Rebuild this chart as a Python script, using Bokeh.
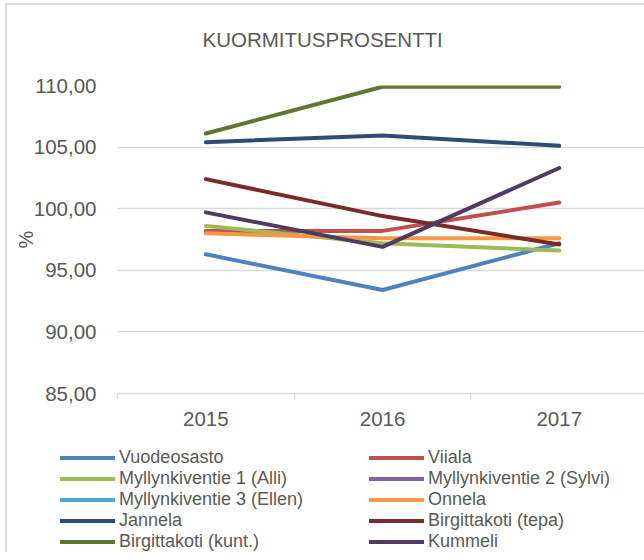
import numpy as np
from bokeh.plotting import figure
from bokeh.layouts import column
from bokeh.models import Legend, LegendItem, FixedTicker, Range1d, Label
from bokeh.embed import file_html
from bokeh.resources import INLINE

# ---- data ----
title_text = "KUORMITUSPROSENTTI"
years = [2015, 2016, 2017]
year_labels = ["2015", "2016", "2017"]
y_ticks = [85, 90, 95, 100, 105, 110]
y_tick_labels = ["85,00", "90,00", "95,00", "100,00", "105,00", "110,00"]

series_names = [
    "Vuodeosasto", "Viiala",
    "Myllynkiventie 1 (Alli)", "Myllynkiventie 2 (Sylvi)",
    "Myllynkiventie 3 (Ellen)", "Onnela",
    "Jannela", "Birgittakoti (tepa)",
    "Birgittakoti (kunt.)", "Kummeli",
]
vuodeosasto = [96.3, 93.4, 97.2]
viiala = [98.2, 98.2, 100.5]
alli = [98.6, 97.2, 96.6]
sylvi = [None, None, None]
ellen = [None, None, None]
onnela = [98.0, 97.6, 97.6]
jannela = [105.4, 105.95, 105.1]
tepa = [102.4, 99.4, 97.1]
kunt = [106.1, 109.9, 109.9]
kummeli = [99.7, 96.9, 103.3]

series_values = [vuodeosasto, viiala, alli, sylvi, ellen, onnela,
                 jannela, tepa, kunt, kummeli]
colors = ["#4F81BD", "#C0504D", "#9BBB59", "#8064A2", "#4BACC6", "#F79646",
          "#2C4D75", "#772C2A", "#5F7530", "#4D3B62"]

TEXT = "#595959"
GRID = "#d9d9d9"
FONT = "Liberation Sans"

band = 176.7
frame_w = 527
left_pad = 110
full_w = frame_w + left_pad
x_start = years[0] - 0.5
x_end = x_start + frame_w / band


def blank_panel(height):
    f = figure(
        frame_width=full_w, frame_height=height,
        min_border_left=0, min_border_right=0, min_border_top=0, min_border_bottom=0,
        x_range=Range1d(0, 1), y_range=Range1d(0, 1),
        x_axis_location=None, y_axis_location=None,
        output_backend="svg", toolbar_location=None,
        background_fill_color="white", border_fill_color="white",
    )
    f.outline_line_color = None
    f.xgrid.grid_line_color = None
    f.ygrid.grid_line_color = None
    return f


# ---- title panel ----
top_h = 50
t = blank_panel(top_h)
t.add_layout(Label(x=85, y=16, x_units="screen", y_units="screen", text=title_text,
                   text_font=FONT, text_font_size="20.5px", text_color=TEXT,
                   text_baseline="middle", text_align="left"))

# ---- main chart ----
p = figure(
    frame_width=frame_w, frame_height=308,
    min_border_left=left_pad, min_border_right=0, min_border_top=80 - top_h, min_border_bottom=47,
    x_range=Range1d(x_start, x_end), y_range=Range1d(y_ticks[0], y_ticks[-1]),
    output_backend="svg", toolbar_location=None,
    background_fill_color="white", border_fill_color="white",
)
p.outline_line_color = None

# x axis
p.xaxis.ticker = FixedTicker(ticks=years, minor_ticks=[y - 0.5 for y in years] + [years[-1] + 0.5])
p.xaxis.major_label_overrides = {y: l for y, l in zip(years, year_labels)}
p.xaxis.major_tick_line_color = None
p.xaxis.major_tick_out = 0
p.xaxis.major_tick_in = 0
p.xaxis.minor_tick_line_color = GRID
p.xaxis.minor_tick_line_width = 1.5
p.xaxis.minor_tick_out = 6
p.xaxis.minor_tick_in = 0
p.xaxis.axis_line_color = GRID
p.xaxis.axis_line_width = 1.5
p.xaxis.major_label_standoff = 12
p.xaxis.major_label_text_font = FONT
p.xaxis.major_label_text_font_size = "20.5px"
p.xaxis.major_label_text_color = TEXT

# y axis
p.yaxis.ticker = FixedTicker(ticks=y_ticks)
p.yaxis.major_label_overrides = {tk: l for tk, l in zip(y_ticks, y_tick_labels)}
p.yaxis.axis_line_color = None
p.yaxis.major_tick_line_color = None
p.yaxis.minor_tick_line_color = None
p.yaxis.major_tick_out = 0
p.yaxis.major_label_standoff = 21
p.yaxis.major_label_text_font = FONT
p.yaxis.major_label_text_font_size = "20.5px"
p.yaxis.major_label_text_color = TEXT
p.yaxis.axis_label = "%"
p.yaxis.axis_label_standoff = -6
p.yaxis.axis_label_text_font = FONT
p.yaxis.axis_label_text_font_size = "20px"
p.yaxis.axis_label_text_font_style = "normal"
p.yaxis.axis_label_text_color = TEXT

p.xgrid.grid_line_color = None
p.ygrid.ticker = FixedTicker(ticks=y_ticks)
p.ygrid.grid_line_color = GRID
p.ygrid.grid_line_width = 1.3

line_kw = dict(line_width=4, line_cap="round", line_join="round")
arrays = [np.array([np.nan if v is None else v for v in vals], dtype=float)
          for vals in series_values]
for arr, col in zip(arrays, colors):
    p.line(years, arr, line_color=col, **line_kw)

# ---- legend panel ----
q = blank_panel(112)
# legend proxies: same series, lying outside this panel's visible range
proxies = [q.line(years, arr, line_color=col, **line_kw) for arr, col in zip(arrays, colors)]


def make_legend(idx, loc):
    return Legend(
        items=[LegendItem(label=series_names[i], renderers=[proxies[i]]) for i in idx],
        location=loc, orientation="vertical",
        glyph_width=55, glyph_height=21, label_height=21, spacing=0,
        padding=0, margin=0, label_standoff=4,
        border_line_color=None, background_fill_alpha=0,
        label_text_font=FONT, label_text_font_size="18px", label_text_color=TEXT,
    )


q.add_layout(make_legend([0, 2, 4, 6, 8], (53, 0)))
q.add_layout(make_legend([1, 3, 5, 7, 9], (362, 0)))

layout = column(t, p, q, spacing=0,
                styles={"margin-left": "5px", "margin-top": "3px",
                        "border-left": "2px solid #d9d9d9", "border-top": "2px solid #d9d9d9"})

open("out.html", "w").write(file_html(layout, INLINE))
